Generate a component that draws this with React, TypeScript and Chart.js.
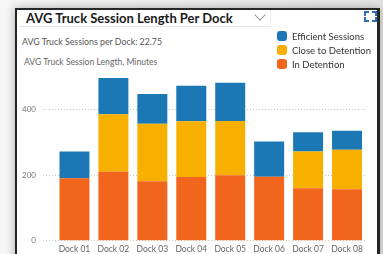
import React, { useEffect, useRef } from "react";
import { Chart, registerables } from "chart.js";
Chart.register(...registerables);

const categories = ["Dock 01", "Dock 02", "Dock 03", "Dock 04", "Dock 05", "Dock 06", "Dock 07", "Dock 08"];
const inDetention = [190, 210, 181, 194, 199, 195, 160, 157];
const closeToDetention = [0, 175, 175, 170, 166, 0, 112, 120];
const efficientSessions = [82, 111, 91, 108, 116, 107, 58, 58];
const yTicks = [0, 200, 400];
const seriesNames = ["Efficient Sessions", "Close to Detention", "In Detention"];
const seriesColors = ["#1c78b5", "#f7b000", "#f2651d"];

const titleText = "AVG Truck Session Length Per Dock";
const subtitleText = "AVG Truck Sessions per Dock: 22.75";
const axisTitleText = "AVG Truck Session Length, Minutes";

const FONT = "'Segoe UI', Lato, 'Open Sans', sans-serif";

export default function App() {
  const ref = useRef<HTMLCanvasElement | null>(null);
  useEffect(() => {
    if (!ref.current) return;
    const chart = new Chart(ref.current, {
      type: "bar",
      data: {
        labels: categories,
        datasets: [
          { label: seriesNames[2], data: inDetention, backgroundColor: seriesColors[2] },
          { label: seriesNames[1], data: closeToDetention, backgroundColor: seriesColors[1] },
          { label: seriesNames[0], data: efficientSessions, backgroundColor: seriesColors[0] },
        ],
      },
      options: {
        animation: false,
        responsive: false,
        maintainAspectRatio: false,
        layout: { padding: { top: 70, left: 0, right: 16.5, bottom: 0 } },
        plugins: { legend: { display: false }, tooltip: { enabled: false }, title: { display: false } },
        datasets: { bar: { categoryPercentage: 1, barPercentage: 0.77 } },
        scales: {
          x: {
            stacked: true,
            grid: { display: false, drawTicks: false },
            border: { display: false },
            ticks: { color: "#666", font: { family: FONT, size: 8.5 }, padding: 3, maxRotation: 0 },
            afterFit: (s: any) => { s.height = 13.3; },
          },
          y: {
            stacked: true,
            min: 0,
            max: 520,
            border: { display: false, dash: [1, 2] },
            grid: { color: "#c8c8c8", lineWidth: 1, drawTicks: true, tickLength: 12, tickColor: "#c8c8c8", tickBorderDash: [1, 2] },
            ticks: {
              color: "#777",
              font: { family: FONT, size: 8 },
              padding: 7,
              includeBounds: false,
              stepSize: 200,
            },
            afterBuildTicks: (s: any) => { s.ticks = yTicks.map((v) => ({ value: v })); },
            afterFit: (s: any) => { s.width = 55; },
          },
        },
      },
    });
    return () => chart.destroy();
  }, []);

  return (
    <div style={{ position: "fixed", left: 0, top: 0, width: 383, height: 254, overflow: "hidden", background: "linear-gradient(90deg, #f6f6f6, #e4e4e4)", fontFamily: FONT }}>
      <div style={{ position: "absolute", left: 15, top: 8, width: 360, height: 270, borderLeft: "2px solid #262626", borderTop: "2px solid #262626", borderRight: "3px solid #262626", background: "#fff", boxShadow: "0 0 9px rgba(0,0,0,0.3)" }} />
      <div style={{ position: "absolute", left: 19, top: 10, width: 251, height: 16, borderRight: "1px solid #eee", borderBottom: "1px solid #e6e6e6", background: "#fff" }} />
      <div style={{ position: "absolute", left: 26, top: 8.5, fontSize: 13, fontWeight: 700, color: "#1a1a1a", whiteSpace: "nowrap", lineHeight: "18px" }}>{titleText}</div>
      <div style={{ position: "absolute", left: 256, top: 11, width: 7, height: 7, borderRight: "1px solid #999", borderBottom: "1px solid #999", transform: "rotate(45deg)" }} />
      <div style={{ position: "absolute", left: 22, top: 36, fontSize: 8.8, color: "#555", whiteSpace: "nowrap", lineHeight: "12px" }}>{subtitleText}</div>
      <div style={{ position: "absolute", left: 24, top: 56, fontSize: 8.6, color: "#666", whiteSpace: "nowrap", lineHeight: "12px" }}>{axisTitleText}</div>
      {[
        { l: 364, t: 11, b: "borderLeft", c: "borderTop" },
        { l: 372, t: 11, b: "borderRight", c: "borderTop" },
        { l: 364, t: 17, b: "borderLeft", c: "borderBottom" },
        { l: 372, t: 17, b: "borderRight", c: "borderBottom" },
      ].map((k, i) => (
        <div key={i} style={{ position: "absolute", left: k.l, top: k.t, width: 3, height: 3, [k.b]: "2px solid #2c6fb5", [k.c]: "2px solid #2c6fb5" } as any} />
      ))}
      <canvas ref={ref} width={383} height={254} style={{ position: "absolute", left: 0, top: 0, width: 383, height: 254 }} />
      <div style={{ position: "absolute", left: 277, top: 29 }}>
        {seriesNames.map((n, i) => (
          <div key={n} style={{ display: "flex", alignItems: "center", height: 14, whiteSpace: "nowrap" }}>
            <span style={{ display: "inline-block", width: 10, height: 10, borderRadius: 3, background: seriesColors[i], marginRight: 5 }} />
            <span style={{ fontSize: 9.5, color: "#333" }}>{n}</span>
          </div>
        ))}
      </div>
    </div>
  );
}
